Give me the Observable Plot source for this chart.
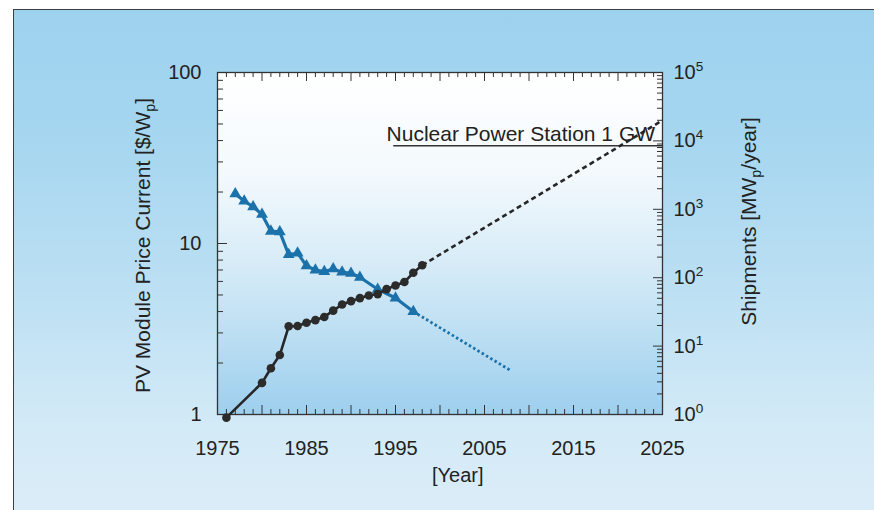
<!DOCTYPE html>
<html><head><meta charset="utf-8">
<script src="https://cdn.jsdelivr.net/npm/d3@7"></script>
<script src="https://cdn.jsdelivr.net/npm/@observablehq/plot@0.6"></script>
<style>
html,body{margin:0;padding:0;background:#fff;}
#wrap{position:relative;width:874px;height:510px;overflow:hidden;}
#panel{position:absolute;left:13px;top:9px;width:880px;height:520px;border-left:1.5px solid #3a3f44;border-top:1.5px solid #3a3f44;
 background:linear-gradient(to bottom,#9dd2ee 0%,#a6d6f0 25%,#bde0f3 55%,#d3eaf7 80%,#dcedf8 100%);}
#chart{position:absolute;left:0;top:0;}
</style></head>
<body><div id="wrap"><div id="panel"></div><div id="chart"></div></div>
<script>
// ---- data ----
const priceYears  = [1977,1978,1979,1980,1981,1982,1983,1984,1985,1986,1987,1988,1989,1990,1991,1993,1995,1997];
const priceValues = [19.5,17.7,16.4,14.8,11.8,11.7,8.6,8.8,7.4,7.0,6.85,7.1,6.8,6.7,6.35,5.4,4.8,4.0];
const priceProjYears  = [1997, 2008];
const priceProjValues = [4.0, 1.8];

const shipYears  = [1976,1980,1981,1982,1983,1984,1985,1986,1987,1988,1989,1990,1991,1992,1993,1994,1995,1996,1997,1998];
const shipValues = [0.9,2.9,4.75,7.4,19.5,19.7,22,24,26.7,33,40.5,45.4,50.3,55,57.6,68,77,86.5,118,152];
const shipProjYears  = [1998, 2025];
const shipProjValues = [152, 20000];

const nuclearLabel = "Nuclear Power Station 1 GW";
const nuclearLevel = 8500;          // MWp/year
const nuclearFrom  = 1994.8;
const nuclearTextAt = 1994.0;

const xTickLabels = [1975,1985,1995,2005,2015,2025];
const leftTickLabels = [1,10,100];
const rightTickExponents = [0,1,2,3,4,5];

const xTitle = "[Year]";
const leftTitle = "PV Module Price Current [$/W_p]";
const rightTitle = "Shipments [MW_p/year]";

// ---- layout ----
const W = 874, H = 510;
const mL = 217, mR = 212, mT = 72, mB = 96;
const fw = W - mL - mR, fh = H - mT - mB;
const blue = "#1b72ab", dark = "#262626", axisCol = "#333";

// shipments (10^0..10^5) share the pixel range of price (1..100)
const toY = s => Math.pow(10, 0.4 * Math.log10(s));

const zip = (xs, ys) => xs.map((x, i) => ({x, v: ys[i]}));
const price = zip(priceYears, priceValues);
const priceProj = zip(priceProjYears, priceProjValues);
const ship = zip(shipYears, shipValues);
const shipProj = zip(shipProjYears, shipProjValues);
const nuclear = [{level: nuclearLevel, from: nuclearFrom, tx: nuclearTextAt, label: nuclearLabel}];

const years = d3.range(1975, 2026);
const xMajor = years.filter(y => y % 5 === 0);
const xMinor = years.filter(y => y % 5 !== 0);
const leftMajor = [1, 10, 100];
const leftMinor = [2,3,4,5,6,7,8,9,20,30,40,50,60,70,80,90];
const rightMajor = rightTickExponents.map(e => Math.pow(10, e));
const rightMinor = [];
for (let e = 0; e < 5; e++) for (let m = 2; m <= 9; m++) rightMinor.push(m * Math.pow(10, e));

const plot = Plot.plot({
  width: W, height: H,
  marginLeft: mL, marginRight: mR, marginTop: mT, marginBottom: mB,
  style: {background: "transparent", color: "#222", fontFamily: "'Liberation Sans', Arial, Helvetica, sans-serif"},
  x: {domain: [1975, 2025], axis: null},
  y: {type: "log", domain: [1, 100], axis: null},
  marks: [
    Plot.frame({fill: "url(#plotBg)"}),
    // inward ticks
    Plot.tickX(xMinor, {x: d => d, insetTop: fh - 5, stroke: axisCol}),
    Plot.tickX(xMajor, {x: d => d, insetTop: fh - 9, stroke: axisCol}),
    Plot.tickX(xMinor, {x: d => d, insetBottom: fh - 5, stroke: axisCol}),
    Plot.tickX(xMajor, {x: d => d, insetBottom: fh - 9, stroke: axisCol}),
    Plot.tickY(leftMinor, {y: d => d, insetRight: fw - 6, stroke: axisCol}),
    Plot.tickY(leftMajor, {y: d => d, insetRight: fw - 10, stroke: axisCol}),
    Plot.tickY(rightMinor, {y: d => toY(d), insetLeft: fw - 5, stroke: axisCol}),
    Plot.tickY(rightMajor, {y: d => toY(d), insetLeft: fw - 9, stroke: axisCol}),
    Plot.frame({stroke: axisCol, strokeWidth: 1.3}),
    // nuclear reference
    Plot.ruleY(nuclear, {y: d => toY(d.level), x1: d => d.from, x2: () => 2025, stroke: "#333", strokeWidth: 1.5}),
    Plot.text(nuclear, {x: d => d.tx, y: d => toY(d.level), text: d => d.label, textAnchor: "start", lineAnchor: "bottom", dy: -5, fontSize: 21, fill: "#222"}),
    // price
    Plot.line(priceProj, {x: "x", y: "v", stroke: blue, strokeWidth: 2.8, strokeDasharray: "2.5,2.5", strokeLinecap: "butt"}),
    Plot.line(price, {x: "x", y: "v", stroke: blue, strokeWidth: 3.2}),
    Plot.dot(price, {x: "x", y: "v", symbol: "triangle", r: 4.4, fill: blue}),
    // shipments
    Plot.line(shipProj, {x: "x", y: d => toY(d.v), stroke: dark, strokeWidth: 2.6, strokeDasharray: "5,3.5", strokeLinecap: "butt"}),
    Plot.line(ship, {x: "x", y: d => toY(d.v), stroke: dark, strokeWidth: 2.6}),
    Plot.dot(ship, {x: "x", y: d => toY(d.v), r: 4.3, fill: "#2b2b2b"}),
    // tick labels
    Plot.text(leftTickLabels, {y: d => d, frameAnchor: "left", textAnchor: "end", dx: -16, text: d => String(d), fontSize: 20}),
    Plot.text(rightTickExponents, {y: e => toY(Math.pow(10, e)), frameAnchor: "right", textAnchor: "start", dx: 11, text: e => "10^" + e, fontSize: 20}),
    Plot.text(xTickLabels, {x: d => d, frameAnchor: "bottom", lineAnchor: "top", dy: 26, text: d => String(d), fontSize: 20}),
    // titles
    Plot.text([xTitle], {x: () => 2002, frameAnchor: "bottom", lineAnchor: "bottom", dy: 67, text: d => d, fontSize: 20}),
    Plot.text([leftTitle], {frameAnchor: "left", textAnchor: "middle", rotate: -90, dx: -74, dy: 2, text: d => d, fontSize: 21}),
    Plot.text([rightTitle], {frameAnchor: "right", textAnchor: "middle", rotate: -90, dx: 87, dy: -22, text: d => d, fontSize: 21})
  ]
});

// gradient for the plotting area
d3.select(plot).insert("defs", ":first-child").html(
  `<linearGradient id="plotBg" x1="0" y1="0" x2="0" y2="1">
     <stop offset="0" stop-color="#ffffff"/>
     <stop offset="0.3" stop-color="#f3f9fd"/>
     <stop offset="0.6" stop-color="#d2e9f6"/>
     <stop offset="1" stop-color="#9dcfee"/>
   </linearGradient>`);

// superscripts (^) and subscripts (_) as tspans
d3.select(plot).selectAll("text").each(function () {
  const t = this.textContent;
  if (!/[\^_]\w/.test(t)) return;
  const parts = t.split(/([\^_]\w)/).filter(p => p);
  this.textContent = "";
  let shift = 0;
  for (const p of parts) {
    const ts = d3.select(this).append("tspan");
    if ((p[0] === "^" || p[0] === "_") && p.length === 2) {
      const d = p[0] === "^" ? -8 : 5;
      ts.attr("dy", d - shift).attr("font-size", "0.68em").text(p.slice(1));
      shift = d;
    } else {
      ts.attr("dy", -shift).text(p);
      shift = 0;
    }
  }
});

document.getElementById("chart").appendChild(plot);
</script>
</body></html>
